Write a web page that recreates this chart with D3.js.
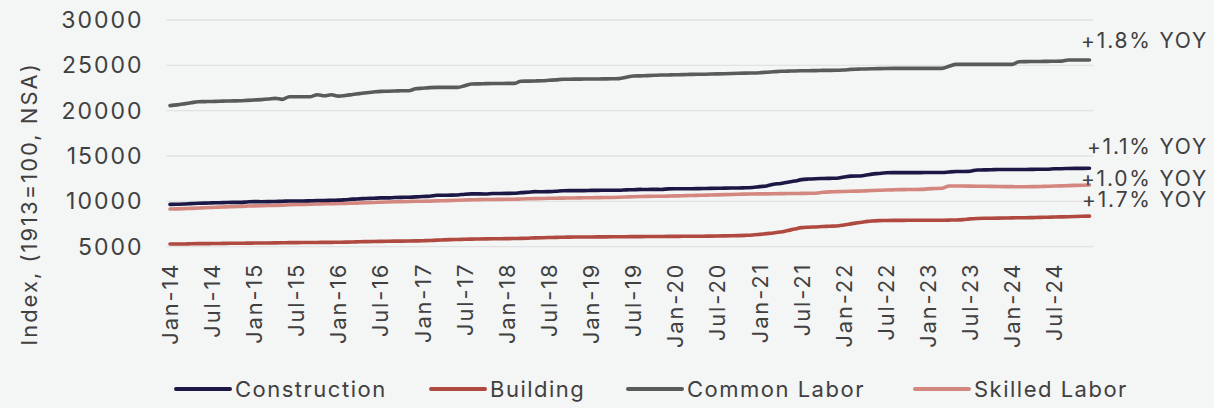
<!DOCTYPE html>
<html>
<head>
<meta charset="utf-8">
<script src="https://cdn.jsdelivr.net/npm/d3@7"></script>
<style>
  html, body { margin: 0; padding: 0; background: #f4f5f5; }
  svg { display: block; font-family: Inter, "DejaVu Sans", sans-serif; }
</style>
</head>
<body>
<svg id="chart" width="1214" height="408"></svg>
<script>
// ENR cost indexes, monthly Jan-14 .. Dec-24
const seriesNames = ["Construction", "Building", "Common Labor", "Skilled Labor"];
const seriesColors = ["#1c1845", "#b04a40", "#595b5b", "#d3877f"];
const yoyLabels = ["+1.1% YOY", "+1.7% YOY", "+1.8% YOY", "+1.0% YOY"];
const yTicks = [5000, 10000, 15000, 20000, 25000, 30000];

const construction = [
  9664, 9681, 9702, 9750, 9796, 9800, 9835, 9846, 9870, 9886, 9889, 9936,
  9972, 9962, 9972, 9992, 10006, 10039, 10035, 10037, 10065, 10092, 10098, 10123,
  10132, 10181, 10242, 10279, 10315, 10337, 10379, 10385, 10421, 10443, 10459, 10490,
  10542, 10559, 10667, 10678, 10683, 10703, 10789, 10826, 10823, 10817, 10870, 10873,
  10878, 10889, 10959, 11013, 11069, 11053, 11076, 11116, 11170, 11183, 11184, 11186,
  11206, 11213, 11228, 11229, 11230, 11269, 11281, 11317, 11310, 11326, 11312, 11381,
  11392, 11396, 11397, 11400, 11412, 11436, 11439, 11455, 11465, 11466, 11498, 11524,
  11628, 11699, 11880, 11977, 12117, 12237, 12400, 12464, 12500, 12520, 12540, 12556,
  12683, 12787, 12794, 12873, 13004, 13079, 13151, 13167, 13171, 13170, 13171, 13173,
  13176, 13176, 13179, 13239, 13288, 13298, 13326, 13460, 13467, 13484, 13510, 13514,
  13515, 13514, 13514, 13532, 13541, 13549, 13593, 13602, 13625, 13638, 13640, 13645
];

const building = [
  5290, 5295, 5300, 5320, 5335, 5340, 5350, 5360, 5370, 5380, 5385, 5390,
  5400, 5405, 5410, 5420, 5430, 5445, 5450, 5455, 5460, 5470, 5475, 5480,
  5490, 5500, 5520, 5540, 5560, 5575, 5590, 5600, 5610, 5620, 5630, 5640,
  5660, 5680, 5720, 5750, 5780, 5800, 5820, 5840, 5850, 5860, 5870, 5880,
  5890, 5900, 5920, 5940, 5970, 5990, 6010, 6030, 6050, 6060, 6065, 6070,
  6075, 6080, 6085, 6090, 6095, 6105, 6110, 6115, 6120, 6125, 6130, 6135,
  6140, 6145, 6150, 6155, 6160, 6170, 6180, 6190, 6200, 6220, 6250, 6290,
  6360, 6440, 6520, 6620, 6780, 6950, 7100, 7150, 7180, 7220, 7260, 7290,
  7400, 7520, 7640, 7750, 7840, 7880, 7890, 7900, 7905, 7910, 7912, 7915,
  7915, 7920, 7925, 7935, 7950, 7990, 8070, 8110, 8130, 8140, 8150, 8160,
  8180, 8190, 8200, 8210, 8230, 8250, 8270, 8290, 8310, 8330, 8350, 8370
];

const commonLabor = [
  20560, 20640, 20750, 20870, 20990, 21000, 21020, 21040, 21060, 21080, 21100, 21140,
  21180, 21220, 21280, 21360, 21250, 21540, 21540, 21540, 21540, 21760, 21640, 21760,
  21600, 21680, 21780, 21880, 21980, 22060, 22130, 22150, 22170, 22190, 22200, 22420,
  22480, 22540, 22570, 22570, 22570, 22570, 22760, 22940, 22960, 22980, 22990, 23000,
  23010, 23010, 23240, 23260, 23280, 23300, 23350, 23400, 23460, 23470, 23480, 23490,
  23500, 23500, 23510, 23520, 23530, 23680, 23820, 23840, 23870, 23900, 23930, 23940,
  23960, 23980, 24000, 24010, 24020, 24040, 24060, 24080, 24100, 24120, 24140, 24160,
  24190, 24240, 24290, 24340, 24360, 24380, 24400, 24410, 24420, 24440, 24450, 24460,
  24480, 24560, 24580, 24600, 24620, 24640, 24650, 24660, 24670, 24670, 24670, 24670,
  24670, 24670, 24670, 24900, 25110, 25110, 25110, 25110, 25110, 25110, 25110, 25110,
  25110, 25400, 25410, 25420, 25430, 25440, 25450, 25460, 25590, 25590, 25590, 25590
];

const skilledLabor = [
  9150, 9175, 9200, 9230, 9260, 9300, 9330, 9360, 9390, 9420, 9450, 9480,
  9500, 9520, 9540, 9560, 9590, 9620, 9650, 9670, 9690, 9710, 9730, 9750,
  9760, 9780, 9800, 9820, 9850, 9880, 9910, 9930, 9950, 9970, 9990, 10010,
  10020, 10030, 10050, 10070, 10090, 10120, 10150, 10170, 10190, 10200, 10210, 10220,
  10230, 10240, 10260, 10280, 10300, 10320, 10340, 10350, 10360, 10370, 10380, 10390,
  10400, 10410, 10420, 10430, 10450, 10480, 10510, 10530, 10550, 10560, 10570, 10580,
  10600, 10620, 10640, 10660, 10680, 10700, 10720, 10740, 10760, 10780, 10800, 10810,
  10820, 10830, 10840, 10850, 10860, 10870, 10880, 10890, 10900, 11000, 11050, 11070,
  11090, 11110, 11130, 11160, 11190, 11220, 11250, 11270, 11290, 11300, 11310, 11320,
  11380, 11410, 11440, 11690, 11690, 11690, 11680, 11670, 11660, 11650, 11640, 11630,
  11620, 11610, 11610, 11620, 11640, 11660, 11690, 11710, 11740, 11760, 11780, 11800
];

const seriesValues = [construction, building, commonLabor, skilledLabor];

// months as categories
const months = d3.timeMonth.range(new Date(2014, 0, 1), new Date(2025, 0, 1));
const fmtMonth = d3.timeFormat("%b-%y");

const svg = d3.select("#chart");
const plot = { left: 166.5, right: 1093, top: 20, bottom: 246.7 };

const x = d3.scaleBand()
  .domain(months)
  .range([plot.left, plot.right]);
const xc = (d) => x(d) + x.bandwidth() / 2;

const y = d3.scaleLinear()
  .domain([5000, 30000])
  .range([plot.bottom, plot.top]);

const textColor = "#404040";

// gridlines
svg.append("g")
  .selectAll("line")
  .data(yTicks)
  .join("line")
  .attr("x1", plot.left)
  .attr("x2", plot.right)
  .attr("y1", (d) => y(d))
  .attr("y2", (d) => y(d))
  .attr("stroke", "#e1e3e3")
  .attr("stroke-width", 1.3);

// y axis labels
const yAxis = svg.append("g")
  .attr("transform", `translate(${plot.left - 23},0)`)
  .call(d3.axisLeft(y).tickValues(yTicks).tickSize(0).tickPadding(0).tickFormat(d3.format("d")));
yAxis.select(".domain").remove();
yAxis.selectAll("text")
  .attr("fill", textColor)
  .attr("font-size", 23)
  .attr("letter-spacing", 2)
  .attr("font-family", "Inter, sans-serif");

// x axis labels, every 6 months
const xAxis = svg.append("g")
  .attr("transform", `translate(0,${plot.bottom})`)
  .call(d3.axisBottom(x)
    .tickValues(months.filter((d, i) => i % 6 === 0))
    .tickSize(0)
    .tickFormat(fmtMonth));
xAxis.select(".domain").remove();
xAxis.selectAll("text")
  .attr("fill", textColor)
  .attr("font-size", 22)
  .attr("font-family", "Inter, sans-serif")
  .attr("letter-spacing", 1.8)
  .attr("text-anchor", "end")
  .attr("transform", "translate(0,16) rotate(-90)")
  .attr("x", 0)
  .attr("y", 0)
  .attr("dy", "0.36em");

// y axis title
svg.append("text")
  .attr("transform", "translate(29,204) rotate(-90)")
  .attr("text-anchor", "middle")
  .attr("dy", "0.36em")
  .attr("fill", textColor)
  .attr("font-size", 22)
  .attr("letter-spacing", 2)
  .text("Index, (1913=100, NSA)");

// lines
const line = d3.line()
  .x((d, i) => xc(months[i]))
  .y((d) => y(d))
  .curve(d3.curveMonotoneX);

// draw order so that navy sits on top of salmon
const drawOrder = [2, 1, 3, 0];
svg.append("g")
  .selectAll("path")
  .data(drawOrder)
  .join("path")
  .attr("d", (k) => line(seriesValues[k]))
  .attr("fill", "none")
  .attr("stroke", (k) => seriesColors[k])
  .attr("stroke-width", 3.6)
  .attr("stroke-linecap", "round")
  .attr("stroke-linejoin", "round");

// YOY labels at the end of each series
const labelShift = [-14, -9, -12, 1];
svg.append("g")
  .selectAll("text")
  .data(seriesNames)
  .join("text")
  .attr("x", 1208)
  .attr("y", (d, k) => y(seriesValues[k][seriesValues[k].length - 1]) + labelShift[k])
  .attr("text-anchor", "end")
  .attr("fill", textColor)
  .attr("font-size", 21)
  .attr("letter-spacing", 1.8)
  .text((d, k) => yoyLabels[k]);

// legend
const legendX = [176, 431, 628, 915];
const legend = svg.append("g")
  .selectAll("g")
  .data(seriesNames)
  .join("g")
  .attr("transform", (d, k) => `translate(${legendX[k]},389)`);
legend.append("line")
  .attr("x1", 0)
  .attr("x2", 54)
  .attr("stroke", (d, k) => seriesColors[k])
  .attr("stroke-width", 4)
  .attr("stroke-linecap", "round");
legend.append("text")
  .attr("x", 59)
  .attr("dy", "0.36em")
  .attr("fill", textColor)
  .attr("font-size", 22)
  .attr("letter-spacing", 1.5)
  .text((d) => d);
</script>
</body>
</html>
